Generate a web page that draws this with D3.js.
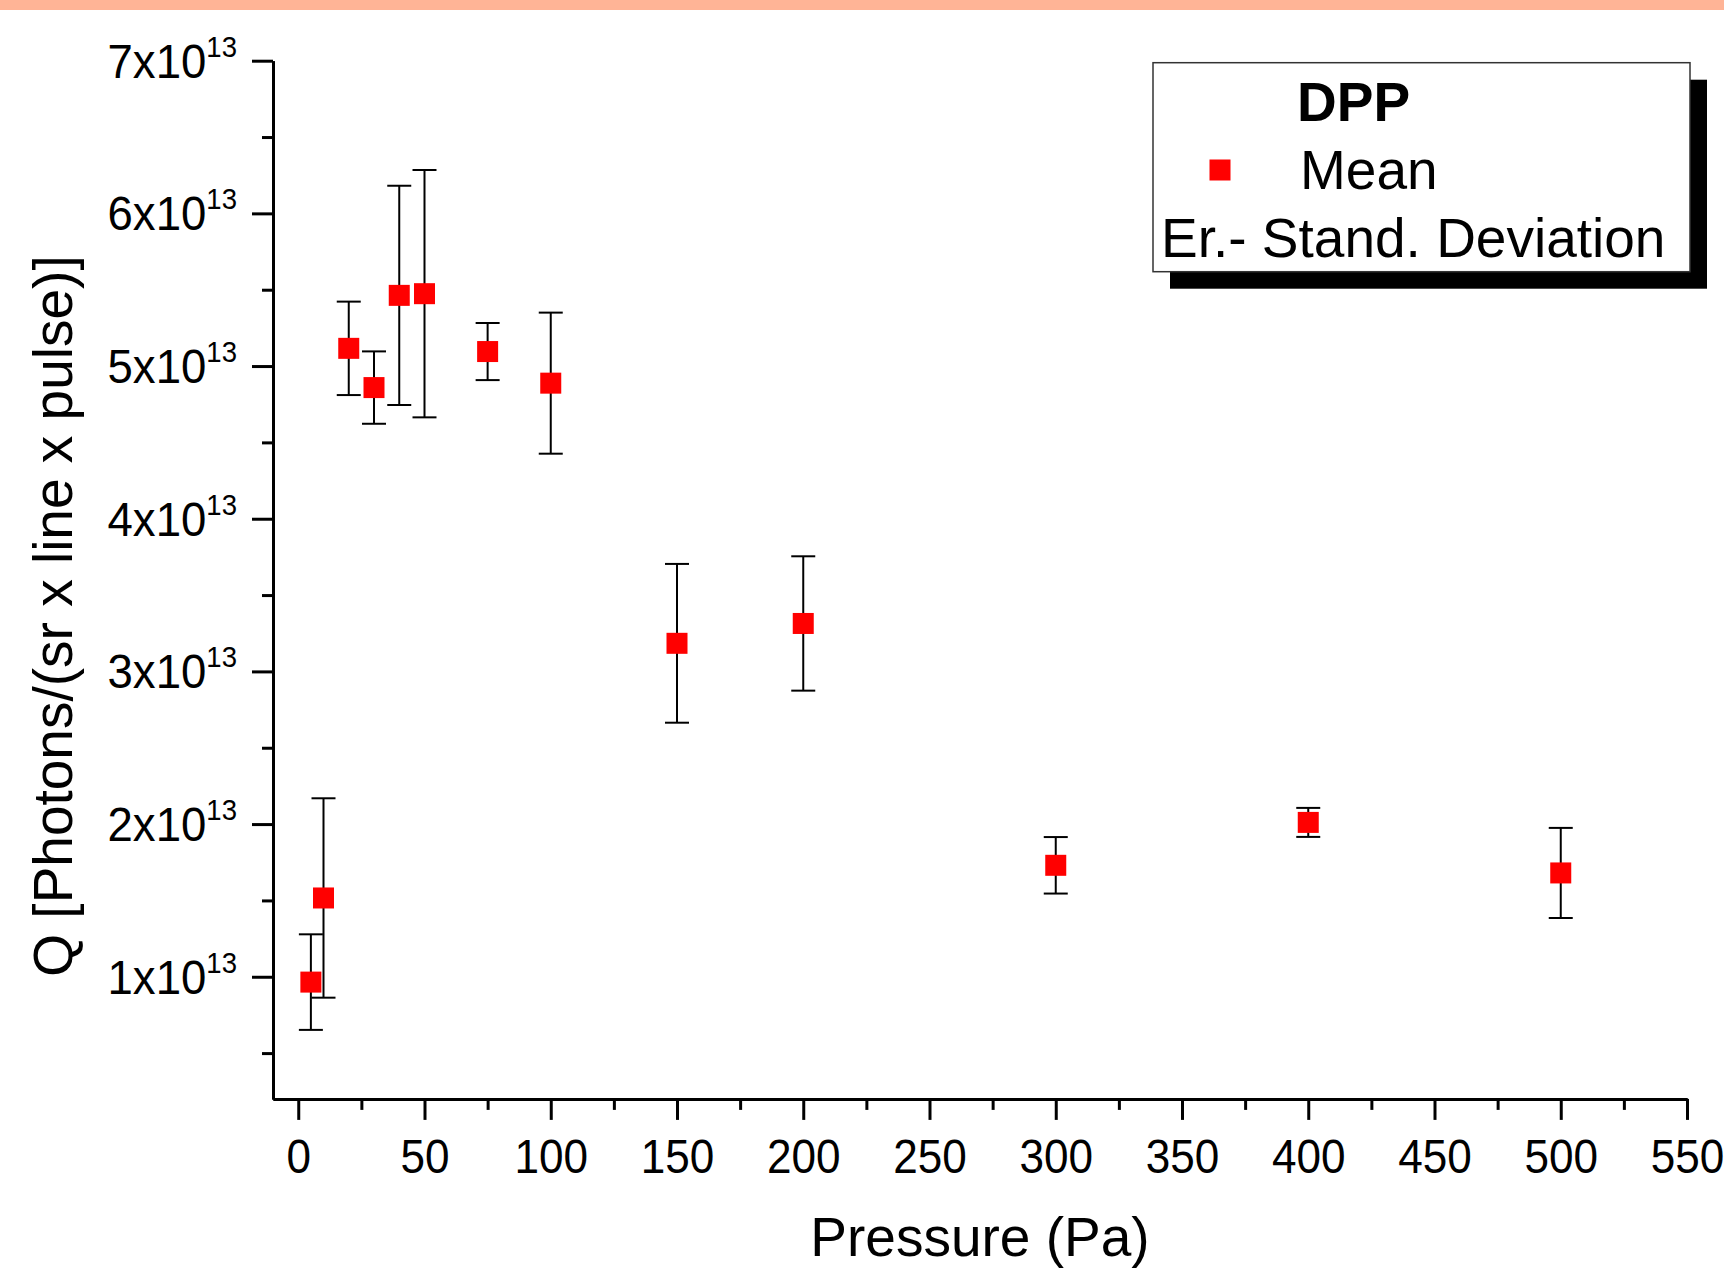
<!DOCTYPE html>
<html>
<head>
<meta charset="utf-8">
<script src="https://cdn.jsdelivr.net/npm/d3@7"></script>
<style>
  body { margin: 0; background: #fff; }
  text { font-family: "Liberation Sans", Arial, sans-serif; fill: #000; }
</style>
</head>
<body>
<div id="chart"></div>
<script>
// pressure (Pa), mean Q and standard deviation, in units of 1e13
var pressure = [5, 10, 20, 30, 40, 50, 75, 100, 150, 200, 300, 400, 500];
var meanQ = [0.965, 1.516, 5.116, 4.859, 5.463, 5.474, 5.095, 4.888, 3.184, 3.314, 1.73, 2.011, 1.68];
var sdQ = [0.313, 0.653, 0.306, 0.237, 0.718, 0.81, 0.187, 0.462, 0.52, 0.44, 0.185, 0.095, 0.295];

var xTicks = [0, 50, 100, 150, 200, 250, 300, 350, 400, 450, 500, 550];
var xMinorTicks = [25, 75, 125, 175, 225, 275, 325, 375, 425, 475, 525];
var yTicks = [1, 2, 3, 4, 5, 6, 7];
var yMinorTicks = [0.5, 1.5, 2.5, 3.5, 4.5, 5.5, 6.5];
var yTickLabels = ["1x10", "2x10", "3x10", "4x10", "5x10", "6x10", "7x10"];
var yTickExp = "13";

var width = 1724, height = 1270;
var plot = { left: 273, right: 1687, top: 60.7, bottom: 1098.9 };

var svg = d3.select("#chart").append("svg")
    .attr("width", width)
    .attr("height", height);

// salmon strip along the top
svg.append("rect")
    .attr("x", 0).attr("y", 0)
    .attr("width", width).attr("height", 10)
    .attr("fill", "#ffb496");

var x = d3.scaleLinear().domain([-10, 550]).range([plot.left, plot.right]);
var y = d3.scaleLinear().domain([0.2, 7]).range([plot.bottom, plot.top]);

// minor ticks first, then major axes on top
svg.append("g")
    .attr("class", "axis")
    .attr("transform", "translate(0," + plot.bottom + ")")
    .call(d3.axisBottom(x).tickValues(xMinorTicks).tickSize(11).tickSizeOuter(0).tickFormat(""));

svg.append("g")
    .attr("class", "axis")
    .attr("transform", "translate(" + plot.left + ",0)")
    .call(d3.axisLeft(y).tickValues(yMinorTicks).tickSize(11).tickSizeOuter(0).tickFormat(""));

var xAxis = svg.append("g")
    .attr("class", "axis")
    .attr("transform", "translate(0," + plot.bottom + ")")
    .call(d3.axisBottom(x).tickValues(xTicks).tickSize(21).tickSizeOuter(0).tickPadding(18));

xAxis.selectAll("text")
    .style("font-size", "49px")
    .attr("transform", "scale(0.9,1)");

svg.append("g")
    .attr("class", "axis")
    .attr("transform", "translate(" + plot.left + ",0)")
    .call(d3.axisLeft(y).tickValues(yTicks).tickSize(21).tickSizeOuter(0).tickFormat(""));

svg.selectAll(".axis path, .axis line")
    .attr("stroke", "#000")
    .attr("stroke-width", 3);
svg.selectAll(".axis text").attr("font-family", null).attr("font-size", null);

// y tick labels with superscript exponent
var yLab = svg.selectAll(".ylab")
    .data(yTicks)
    .enter().append("g")
    .attr("class", "ylab")
    .attr("transform", function(d) { return "translate(237," + (y(d) + 17) + ")"; })
    .append("text")
    .attr("text-anchor", "end")
    .attr("transform", "scale(0.95,1)");

yLab.append("tspan")
    .style("font-size", "48px")
    .text(function(d, i) { return yTickLabels[i]; });
yLab.append("tspan")
    .attr("dy", -21)
    .style("font-size", "29px")
    .text(yTickExp);

// error bars
var capW = 12;
var bars = svg.selectAll(".err")
    .data(pressure)
    .enter().append("g")
    .attr("class", "err")
    .attr("stroke", "#000")
    .attr("stroke-width", 2);

bars.append("line")
    .attr("x1", function(d) { return x(d); })
    .attr("x2", function(d) { return x(d); })
    .attr("y1", function(d, i) { return y(meanQ[i] + sdQ[i]); })
    .attr("y2", function(d, i) { return y(meanQ[i] - sdQ[i]); });
bars.append("line")
    .attr("x1", function(d) { return x(d) - capW; })
    .attr("x2", function(d) { return x(d) + capW; })
    .attr("y1", function(d, i) { return y(meanQ[i] + sdQ[i]); })
    .attr("y2", function(d, i) { return y(meanQ[i] + sdQ[i]); });
bars.append("line")
    .attr("x1", function(d) { return x(d) - capW; })
    .attr("x2", function(d) { return x(d) + capW; })
    .attr("y1", function(d, i) { return y(meanQ[i] - sdQ[i]); })
    .attr("y2", function(d, i) { return y(meanQ[i] - sdQ[i]); });

// mean markers
var ms = 21;
svg.selectAll(".pt")
    .data(pressure)
    .enter().append("rect")
    .attr("class", "pt")
    .attr("x", function(d) { return x(d) - ms / 2; })
    .attr("y", function(d, i) { return y(meanQ[i]) - ms / 2; })
    .attr("width", ms)
    .attr("height", ms)
    .attr("fill", "#ff0000");

// axis titles
svg.append("text")
    .attr("x", (plot.left + plot.right) / 2)
    .attr("y", 1256)
    .attr("text-anchor", "middle")
    .style("font-size", "55px")
    .text("Pressure (Pa)");

svg.append("text")
    .attr("transform", "translate(72,616) rotate(-90)")
    .attr("text-anchor", "middle")
    .style("font-size", "55px")
    .text("Q [Photons/(sr x line x pulse)]");

// legend
var lg = { x: 1153, y: 62.7, w: 537, h: 209 };
svg.append("rect")
    .attr("x", lg.x + 17).attr("y", lg.y + 17)
    .attr("width", lg.w).attr("height", lg.h)
    .attr("fill", "#000");
svg.append("rect")
    .attr("x", lg.x).attr("y", lg.y)
    .attr("width", lg.w).attr("height", lg.h)
    .attr("fill", "#fff")
    .attr("stroke", "#333")
    .attr("stroke-width", 1.5);

svg.append("text")
    .attr("x", 1297).attr("y", 121)
    .style("font-size", "55px")
    .style("font-weight", "bold")
    .text("DPP");
svg.append("rect")
    .attr("x", 1220 - ms / 2).attr("y", 170 - ms / 2)
    .attr("width", ms).attr("height", ms)
    .attr("fill", "#ff0000");
svg.append("text")
    .attr("x", 1300).attr("y", 189)
    .style("font-size", "55px")
    .text("Mean");
svg.append("text")
    .attr("x", 1161).attr("y", 257)
    .style("font-size", "55px")
    .text("Er.- Stand. Deviation");
</script>
</body>
</html>
